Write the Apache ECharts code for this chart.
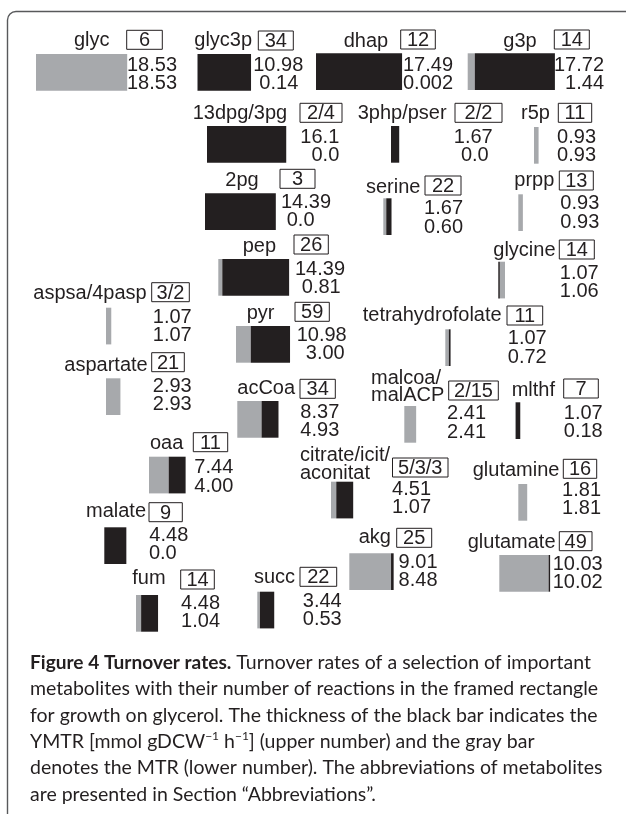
<!DOCTYPE html>
<html><head><meta charset="utf-8">
<script src="https://cdn.jsdelivr.net/npm/echarts@6/dist/echarts.min.js"></script>
<style>html,body{margin:0;padding:0;background:#fff}#c{width:626px;height:814px}</style>
</head><body><div id="c"></div>
<script>
// ---- data ----
const metabolites = ['glyc','glyc3p','dhap','g3p','13dpg/3pg','3php/pser','r5p','2pg','serine','prpp','pep','glycine','aspsa/4pasp','pyr','tetrahydrofolate','aspartate','acCoa','malcoa/\nmalACP','mlthf','oaa','citrate/icit/\naconitat','glutamine','malate','akg','glutamate','fum','succ'];
const reactions = ['6','34','12','14','2/4','2/2','11','3','22','13','26','14','3/2','59','11','21','34','2/15','7','11','5/3/3','16','9','25','49','14','22'];
const ymtr = [18.53,10.98,17.49,17.72,16.1,1.67,0.93,14.39,1.67,0.93,14.39,1.07,1.07,10.98,1.07,2.93,8.37,2.41,1.07,7.44,4.51,1.81,4.48,9.01,10.03,4.48,3.44];
const mtr = [18.53,0.14,0.002,1.44,0.0,0.0,0.93,0.0,0.60,0.93,0.81,1.06,1.07,3.00,0.72,2.93,4.93,2.41,0.18,4.00,1.07,1.81,0.0,8.48,10.02,1.04,0.53];
const ymtrLabels = ['18.53','10.98','17.49','17.72','16.1','1.67','0.93','14.39','1.67','0.93','14.39','1.07','1.07','10.98','1.07','2.93','8.37','2.41','1.07','7.44','4.51','1.81','4.48','9.01','10.03','4.48','3.44'];
const mtrLabels = ['18.53','0.14','0.002','1.44','0.0','0.0','0.93','0.0','0.60','0.93','0.81','1.06','1.07','3.00','0.72','2.93','4.93','2.41','0.18','4.00','1.07','1.81','0.0','8.48','10.02','1.04','0.53'];
const captionLines = [
  '{b|Figure 4 Turnover rates.} Turnover rates of a selection of important',
  'metabolites with their number of reactions in the framed rectangle',
  'for growth on glycerol. The thickness of the black bar indicates the',
  'YMTR [mmol gDCW{sup|\u22121} h{sup|\u22121}] (upper number) and the gray bar',
  'denotes the MTR (lower number). The abbreviations of metabolites',
  'are presented in Section \u201cAbbreviations\u201d.'
];

// ---- layout (pixels): [barX, barY, nameX, nameBaseline, boxX, boxY, boxW, numRight, numBaseline, lowerDx, blackFirst]
const layout = [
  [36,54,74,47,126.7,30.3,35.6,177,71.7,0],
  [197,54,194.3,47,258.3,31,35,303.3,71.7,-5],
  [316,53.3,343.7,47.5,400.7,30,34.6,453,71.7,0],
  [467.7,53.3,503.3,47.5,554.3,30,35,604,71.7,0],
  [207,126,192.7,120,300,103.3,42,339.3,143.3,0],
  [391,126,357.7,120,455,103.3,47,492.7,143.3,-4],
  [534,127,521,120,558.3,103.3,33.4,596,143.3,0],
  [205,193.3,225.3,186.7,280,169.3,35,331,208.3,-16.5],
  [383.3,198.3,366,193.3,425,176,36,463,215,0],
  [518.3,194.3,514.3,186.7,559.3,171,34,599.3,210,0],
  [218.3,259,242.7,252.7,294,235,34.3,345,275.7,-4.3],
  [498.3,261.7,493.3,256.7,559.3,240,35,598.7,279.3,0,1],
  [106,307.7,33.3,300,151.7,282.7,37.6,191.7,323.3,0],
  [236,326,246.7,320,295,302.3,34.3,346.7,341.7,-2],
  [445.3,329.3,362.7,321.7,507,306,35.7,546.7,345,0],
  [106,378.3,64.3,371.7,151.7,352.7,32.6,191.7,392.7,0],
  [237.3,401,237.3,395,300,379.3,35.3,339.3,418.3,0],
  [404.3,406,371,401.7,448.7,381,49.6,486,420,0],
  [515,402.3,511.7,396.7,563.7,379,34.6,602.7,419.3,0],
  [149,456.7,150,450,193.3,432.7,34.4,233.3,474,0],
  [331,481.7,300,479.3,392.5,458,55.5,431,495.5,0],
  [518.3,484,472.7,476.7,563.3,459.3,33.4,601,496.7,0],
  [104.3,527.3,86,517.3,149,502.7,33.3,188.3,541.7,-11.6],
  [349.3,553.3,358.7,543.3,396.7,528.3,35,437.5,568.3,0],
  [499.3,555,467.7,548.3,559.3,531.7,32.7,602.7,570.7,0],
  [136,595,132.3,585,180.7,570,33.6,220,609.3,0],
  [257.3,591.7,254,583.3,300,567.3,36.7,341.7,607.7,0]
];

const FONT = 'Liberation Sans';
const INK = '#231f20', GRAY = '#a7a9ac', FRAME = '#58595b';
const BAR_H = 36.7, BOX_H = 19, FS = 20, LINE_GAP = 18.3, NAME_GAP = 17.2, MID = 6.2;

function txt(text, x, y, align) {
  return {type: 'text', x: x, y: y, silent: true,
    style: {text: text, fill: INK, fontFamily: FONT, fontSize: FS, align: align, verticalAlign: 'middle'}};
}

const chart = echarts.init(document.getElementById('c'), null, {renderer: 'canvas'});
chart.setOption({
  animation: false,
  backgroundColor: '#fff',
  grid: {left: 0, right: 0, top: 0, bottom: 0},
  xAxis: {type: 'value', min: 0, max: 127.2, show: false},
  yAxis: {type: 'value', min: 0, max: 814, inverse: true, show: false},
  series: [{
    type: 'custom',
    clip: false,
    data: ymtr.map((v, i) => [v, mtr[i], i]),
    encode: {x: 0, y: 2},
    renderItem: function (params, api) {
      const i = params.dataIndex;
      const L = layout[i];
      const yv = api.value(0), mv = api.value(1);
      const wTot = api.size([yv, 0])[0];
      const wGray = api.size([mv, 0])[0];
      let wBlack = wTot - wGray;
      if (yv > mv && wBlack < 1.5) wBlack = 1.5;
      const blackFirst = L[10] === 1;
      const children = [];
      const grayX = blackFirst ? L[0] + wBlack : L[0];
      const blackX = blackFirst ? L[0] : L[0] + wGray;
      if (wGray > 0) children.push({type: 'rect', shape: {x: grayX, y: L[1], width: wGray, height: BAR_H}, style: {fill: GRAY}});
      if (wBlack > 0) children.push({type: 'rect', shape: {x: blackX, y: L[1], width: wBlack, height: BAR_H}, style: {fill: INK}});
      const lines = metabolites[i].split('\n');
      lines.forEach((ln, k) => {
        const bl = L[3] - (lines.length - 1 - k) * NAME_GAP;
        children.push(txt(ln, L[2], bl - MID, 'left'));
      });
      children.push({type: 'rect', shape: {x: L[4], y: L[5], width: L[6], height: BOX_H},
        style: {fill: 'none', stroke: INK, lineWidth: 1}});
      children.push(txt(reactions[i], L[4] + L[6] / 2, L[5] + BOX_H / 2 + 1, 'center'));
      children.push(txt(ymtrLabels[i], L[7], L[8] - MID, 'right'));
      children.push(txt(mtrLabels[i], L[7] + L[9], L[8] + LINE_GAP - MID, 'right'));
      return {type: 'group', children: children};
    }
  }],
  graphic: [
    {type: 'line', shape: {x1: 7.5, y1: 20, x2: 7.5, y2: 814}, style: {stroke: FRAME, lineWidth: 1.4}},
    {type: 'line', shape: {x1: 16, y1: 11.5, x2: 626, y2: 11.5}, style: {stroke: FRAME, lineWidth: 1.4}},
    {type: 'arc', shape: {cx: 16, cy: 20, r: 8.5, startAngle: Math.PI, endAngle: Math.PI * 1.5, clockwise: true},
     style: {fill: 'none', stroke: FRAME, lineWidth: 1.4}}
  ].concat(captionLines.map((t, k) => ({
    type: 'text', x: 30, y: 651 + k * 26.4,
    style: {text: t, fill: INK, fontFamily: 'Lato', fontSize: 19.5, lineHeight: 23,
      rich: {b: {fontWeight: 'bold', fontFamily: 'Lato', fontSize: 19.1, lineHeight: 23, fill: INK},
             sup: {fontFamily: 'Lato', fontSize: 12, lineHeight: 10, verticalAlign: 'top', fill: INK}}}
  })))
});
</script></body></html>
